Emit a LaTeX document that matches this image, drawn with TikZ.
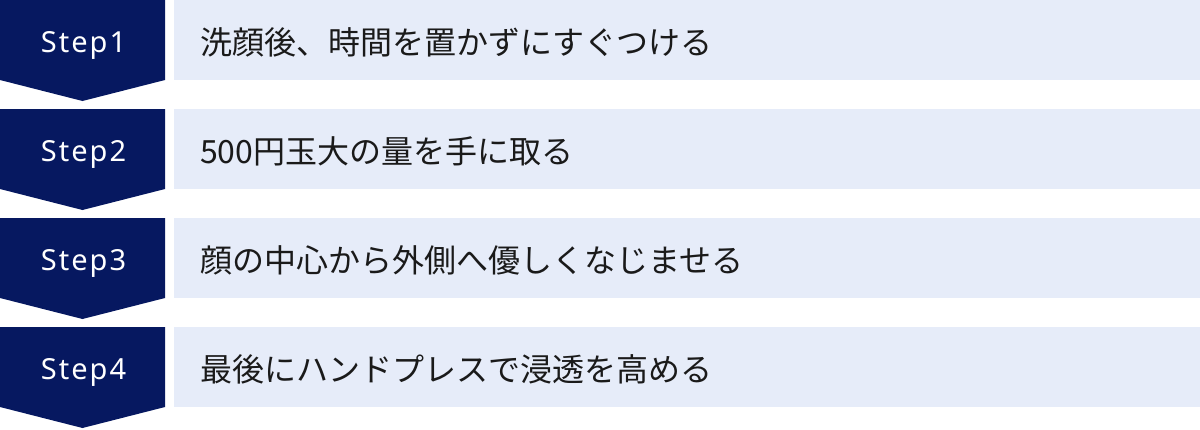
\documentclass[tikz,border=0pt]{standalone}
\usepackage{fontspec}
\newfontfamily\jpfont{Noto Sans CJK JP}
\newfontfamily\stepfont[LetterSpace=7]{Noto Sans}
\definecolor{navy}{HTML}{061860}
\definecolor{lightbg}{HTML}{E6ECF9}
\definecolor{txt}{HTML}{1A1A1A}
\begin{document}
\begin{tikzpicture}[x=1pt,y=1pt,
  stepshape/.style={fill=navy,draw=none},
  barshape/.style={fill=lightbg,draw=none},
  steplabel/.style={anchor=base,inner sep=0pt,text=white,font=\stepfont\fontsize{29}{34}\selectfont},
  bartext/.style={anchor=base west,inner sep=0pt,text=txt,font=\jpfont\fontsize{32}{38}\selectfont}]
\useasboundingbox (0,0) rectangle (1200,-429);
\foreach \i/\t in {0/洗顔後、時間を置かずにすぐつける,1/500円玉大の量を手に取る,2/顔の中心から外側へ優しくなじませる,3/最後にハンドプレスで浸透を高める}{
  \pgfmathsetmacro{\top}{-109*\i}
  \fill[stepshape] (0,\top) -- (165,\top) -- (165,\top-80) -- (82.5,\top-101) -- (0,\top-80) -- cycle;
  \fill[barshape] (174,\top) rectangle (1200,\top-80);
  \pgfmathtruncatemacro{\n}{\i+1}
  \node[steplabel] (step\n) at (83.5,\top-52) {Step\n};
  \node[bartext] (text\n) at (200,\top-54) {\t};
}
\end{tikzpicture}
\end{document}
